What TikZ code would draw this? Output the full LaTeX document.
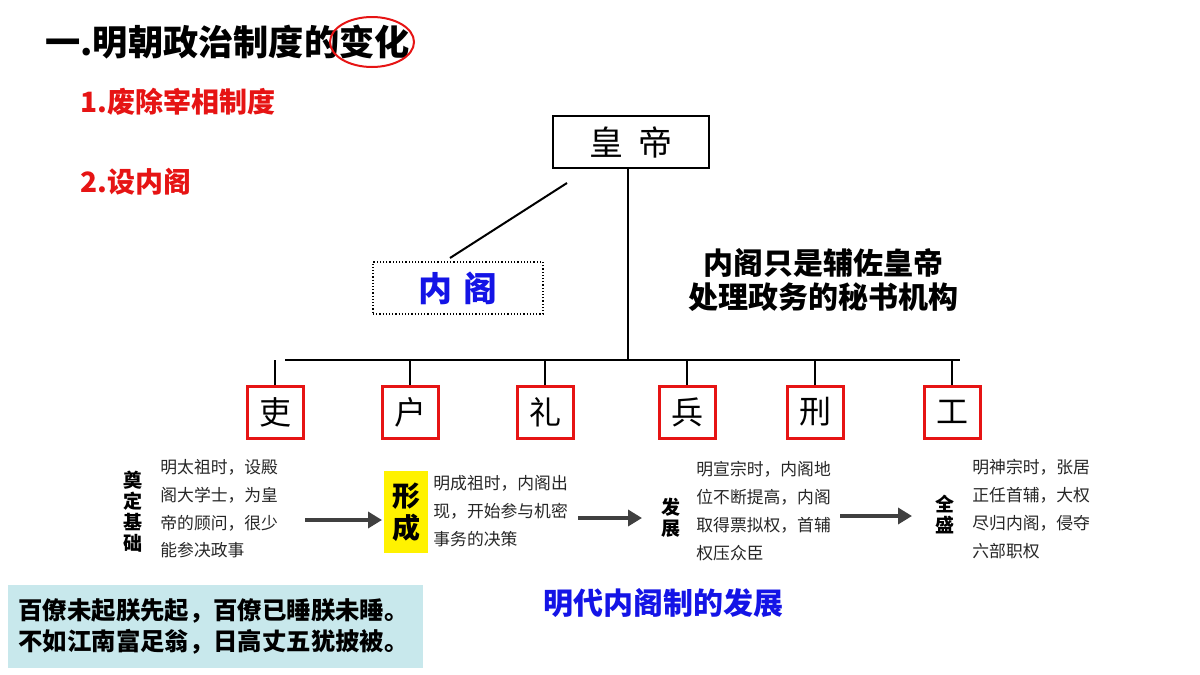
\documentclass[tikz,border=0pt]{standalone}
\usepackage{fontspec}
\setmainfont{Noto Sans CJK SC}
\usetikzlibrary{arrows.meta,shapes.geometric}
\definecolor{myred}{RGB}{230,20,20}
\definecolor{myblue}{RGB}{20,20,230}
\definecolor{boxcyan}{RGB}{200,232,236}
\newcommand{\fs}[1]{\fontsize{#1}{#1}\selectfont}
\tikzset{
  office/.style={draw=myred,line width=1.5pt,fill=white,minimum width=28pt,minimum height=26pt,inner sep=0pt,font=\fs{16}},
  desc/.style={anchor=north west,align=left,inner sep=0pt,font=\fs{8.4}\color{black!85},text width=85pt},
  stage/.style={align=center,inner sep=0pt,font=\fs{9.5}\bfseries,text width=10pt},
  harrow/.style={line width=2pt,black!75,-{Triangle[length=7pt,width=8pt]}},
  line/.style={line width=1pt,black}
}
\begin{document}
\begin{tikzpicture}[x=0.5pt,y=-0.5pt]
\useasboundingbox (0,0) rectangle (1200,675);
% title
\node[anchor=west,inner sep=0pt,font=\fs{17.6}\bfseries] (title) at (45,42) {一.明朝政治制度的变化};
\node[draw=myred,line width=1pt,ellipse,minimum width=42pt,minimum height=25pt,inner sep=0pt] (circ) at (372,42) {};
\node[anchor=west,inner sep=0pt,font=\fs{14}\bfseries,text=myred] (p1) at (80,102) {1.废除宰相制度};
\node[anchor=west,inner sep=0pt,font=\fs{14}\bfseries,text=myred] (p2) at (80,182) {2.设内阁};
% emperor
\node[draw,line width=1pt,minimum width=78pt,minimum height=26pt,inner sep=0pt,font=\fs{17}] (hd) at (631,142) {皇\hspace{8pt}帝};
\coordinate (hub) at (628,360);
\draw[line] (hd.south -| hub) -- (hub);
\coordinate (la) at (567,183);
\coordinate (lb) at (450,258);
\draw[line] (la) -- (lb);
\node[draw,densely dotted,line width=0.6pt,minimum width=85pt,minimum height=26pt,inner sep=0pt,font=\fs{17}\bfseries,text=myblue] (ng) at (458,288) {内\hspace{6pt}阁};
\node[align=center,inner sep=0pt,font=\fs{15}\bfseries] (note) at (823,280) {内阁只是辅佐皇帝\\[2pt]处理政务的秘书机构};
% six boards
\foreach \n/\x/\t in {a/275/吏,b/410/户,c/545/礼,d/687/兵,e/815/刑,f/952/工}{
  \node[office] (\n) at (\x,412) {\t};
}
\coordinate (hl) at (285,360);
\coordinate (hr) at (960,360);
\draw[line] (hl) -- (hr);
\foreach \n in {a,b,c,d,e,f}{ \draw[line] (\n.north |- hub) -- (\n.north); }
% development row
\node[stage] (s1) at (133,512) {奠\\[1pt]定\\[1pt]基\\[1pt]础};
\node[desc] (d1) at (160,459) {明太祖时，设殿\\[5.5pt]阁大学士，为皇\\[5.5pt]帝的顾问，很少\\[5.5pt]能参决政事};
\node[fill=yellow,minimum width=22pt,minimum height=41pt,inner sep=0pt,align=center,font=\fs{14}\bfseries] (s2) at (406,512) {形\\[2pt]成};
\node[desc] (d2) at (433,475) {明成祖时，内阁出\\[5.5pt]现，开始参与机密\\[5.5pt]事务的决策};
\node[stage] (s3) at (671,518) {发\\[1pt]展};
\node[desc] (d3) at (696,461) {明宣宗时，内阁地\\[5.5pt]位不断提高，内阁\\[5.5pt]取得票拟权，首辅\\[5.5pt]权压众臣};
\node[stage] (s4) at (945,515) {全\\[1pt]盛};
\node[desc] (d4) at (972,459) {明神宗时，张居\\[5.5pt]正任首辅，大权\\[5.5pt]尽归内阁，侵夺\\[5.5pt]六部职权};
\coordinate (a1s) at (305,520); \coordinate (a1e) at (382,520);
\coordinate (a2s) at (578,518); \coordinate (a2e) at (642,518);
\coordinate (a3s) at (840,516); \coordinate (a3e) at (912,516);
\draw[harrow] (a1s) -- (a1e);
\draw[harrow] (a2s) -- (a2e);
\draw[harrow] (a3s) -- (a3e);
\node[inner sep=0pt,font=\fs{15}\bfseries,text=myblue] (cap) at (663,603) {明代内阁制的发展};
% poem box
\node[fill=boxcyan,minimum width=207.5pt,minimum height=41.5pt,inner sep=0pt,anchor=north west] (pbox) at (8,585) {};
\node[anchor=west,align=left,inner sep=0pt,font=\fs{12.2}\bfseries] (poem) at (18,626) {百僚未起朕先起，百僚已睡朕未睡。\\[2pt]不如江南富足翁，日高丈五犹披被。};
\end{tikzpicture}
\end{document}
